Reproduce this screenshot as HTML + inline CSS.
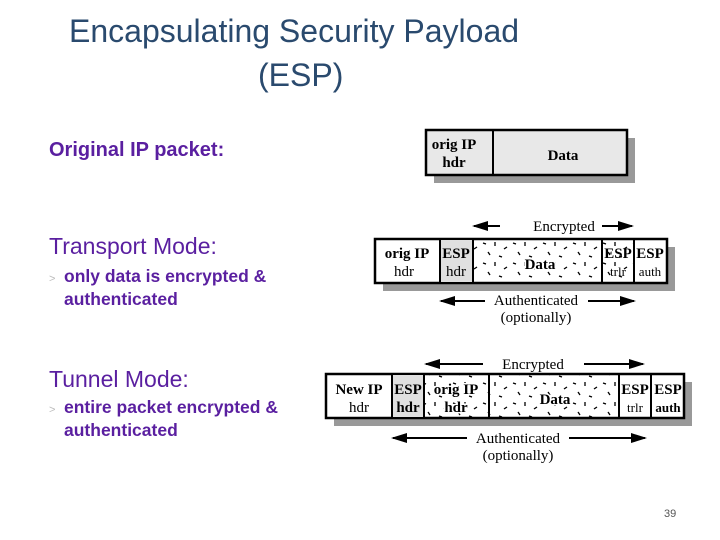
<!DOCTYPE html>
<html><head><meta charset="utf-8"><style>
body{margin:0;width:720px;height:540px;background:#fff;position:relative;overflow:hidden;font-family:"Liberation Sans",sans-serif}
.t{position:absolute;color:#2a4a6e;font-size:32px;white-space:nowrap}
.p{position:absolute;color:#5a1fa0;white-space:nowrap}
</style></head><body>
<div class="t" style="left:69px;top:13px">Encapsulating Security Payload</div>
<div class="t" style="left:258px;top:57px">(ESP)</div>
<div class="p" style="left:49px;top:139px;font-size:20px;font-weight:bold">Original IP packet:</div>
<div class="p" style="left:49px;top:233px;font-size:23px">Transport Mode:</div>
<div class="p" style="left:49px;top:265px;font-size:17.5px;font-weight:bold;line-height:23px"><span style="color:#bbb;font-weight:normal;font-size:11px;position:absolute;left:0;top:3px">&gt;</span><div style="padding-left:15px">only data is encrypted &amp;<br>authenticated</div></div>
<div class="p" style="left:49px;top:366px;font-size:23px">Tunnel Mode:</div>
<div class="p" style="left:49px;top:396px;font-size:17.5px;font-weight:bold;line-height:23px"><span style="color:#bbb;font-weight:normal;font-size:11px;position:absolute;left:0;top:3px">&gt;</span><div style="padding-left:15px">entire packet encrypted &amp;<br>authenticated</div></div>
<div style="position:absolute;left:664px;top:508px;font-size:11px;color:#555">39</div>
<svg width="720" height="540" style="position:absolute;left:0;top:0" font-family="Liberation Serif,serif" font-weight="bold" font-size="15">
<defs>
<pattern id="d" width="30" height="20" patternUnits="userSpaceOnUse">
<g stroke="#000" stroke-width="1.3">
<line x1="3" y1="3" x2="6" y2="4"/><line x1="15" y1="2" x2="15" y2="6"/><line x1="24" y1="9" x2="27" y2="7"/><line x1="8" y1="12" x2="10" y2="15"/><line x1="19" y1="16" x2="22" y2="17"/>
</g></pattern>
<marker id="a" markerWidth="8" markerHeight="8" refX="7" refY="4" orient="auto"><path d="M0,1.5 L8,4 L0,6.5z" fill="#000"/></marker>
</defs>
<!-- original -->
<rect x="434" y="138" width="201" height="45" fill="#999"/>
<rect x="426" y="130" width="201" height="45" fill="#e8e8e8" stroke="#000" stroke-width="2.5"/>
<line x1="493" y1="130" x2="493" y2="175" stroke="#000" stroke-width="2"/>
<text x="454" y="149" text-anchor="middle">orig IP</text><text x="454" y="167" text-anchor="middle">hdr</text>
<text x="563" y="160" text-anchor="middle">Data</text>
<!-- transport -->
<rect x="383" y="247" width="292" height="44" fill="#999"/>
<rect x="375" y="239" width="292" height="44" fill="#fff" stroke="#000" stroke-width="2.5"/>
<rect x="440" y="240" width="33" height="42" fill="#e0e0e0"/>
<rect x="473" y="240" width="161" height="42" fill="url(#d)"/>
<g stroke="#000" stroke-width="2"><line x1="440" y1="239" x2="440" y2="283"/><line x1="473" y1="239" x2="473" y2="283"/><line x1="602" y1="239" x2="602" y2="283"/><line x1="634" y1="239" x2="634" y2="283"/></g>
<text x="407" y="258" text-anchor="middle">orig IP</text><text x="404" y="276" text-anchor="middle" font-weight="normal">hdr</text>
<text x="456" y="258" text-anchor="middle">ESP</text><text x="456" y="276" text-anchor="middle" font-weight="normal">hdr</text>
<text x="540" y="269" text-anchor="middle" fill="#fff" stroke="#fff" stroke-width="3">Data</text><text x="540" y="269" text-anchor="middle">Data</text>
<text x="618" y="258" text-anchor="middle">ESP</text><text x="618" y="276" text-anchor="middle" font-weight="normal" font-size="13">trlr</text>
<text x="650" y="258" text-anchor="middle">ESP</text><text x="650" y="276" text-anchor="middle" font-weight="normal" font-size="13">auth</text>
<g stroke="#000" stroke-width="2" marker-end="url(#a)"><line x1="500" y1="226" x2="474" y2="226"/><line x1="602" y1="226" x2="632" y2="226"/><line x1="485" y1="301" x2="441" y2="301"/><line x1="588" y1="301" x2="634" y2="301"/></g>
<text x="564" y="231" text-anchor="middle" font-weight="normal">Encrypted</text>
<text x="536" y="305" text-anchor="middle" font-weight="normal">Authenticated</text>
<text x="536" y="322" text-anchor="middle" font-weight="normal">(optionally)</text>
<!-- tunnel -->
<rect x="334" y="382" width="358" height="44" fill="#999"/>
<rect x="326" y="374" width="358" height="44" fill="#fff" stroke="#000" stroke-width="2.5"/>
<rect x="392" y="375" width="32" height="42" fill="#e0e0e0"/>
<rect x="424" y="375" width="195" height="42" fill="url(#d)"/>
<g stroke="#000" stroke-width="2"><line x1="392" y1="374" x2="392" y2="418"/><line x1="424" y1="374" x2="424" y2="418"/><line x1="489" y1="374" x2="489" y2="418"/><line x1="619" y1="374" x2="619" y2="418"/><line x1="651" y1="374" x2="651" y2="418"/></g>
<text x="359" y="394" text-anchor="middle">New IP</text><text x="359" y="412" text-anchor="middle" font-weight="normal">hdr</text>
<text x="408" y="394" text-anchor="middle">ESP</text><text x="408" y="412" text-anchor="middle">hdr</text>
<text x="456" y="394" text-anchor="middle" fill="#fff" stroke="#fff" stroke-width="3">orig IP</text><text x="456" y="394" text-anchor="middle">orig IP</text>
<text x="456" y="412" text-anchor="middle" fill="#fff" stroke="#fff" stroke-width="3">hdr</text><text x="456" y="412" text-anchor="middle">hdr</text>
<text x="555" y="404" text-anchor="middle" fill="#fff" stroke="#fff" stroke-width="3">Data</text><text x="555" y="404" text-anchor="middle">Data</text>
<text x="635" y="394" text-anchor="middle">ESP</text><text x="635" y="412" text-anchor="middle" font-weight="normal" font-size="13">trlr</text>
<text x="668" y="394" text-anchor="middle">ESP</text><text x="668" y="412" text-anchor="middle" font-size="13">auth</text>
<g stroke="#000" stroke-width="2" marker-end="url(#a)"><line x1="483" y1="364" x2="426" y2="364"/><line x1="584" y1="364" x2="643" y2="364"/><line x1="467" y1="438" x2="393" y2="438"/><line x1="569" y1="438" x2="645" y2="438"/></g>
<text x="533" y="369" text-anchor="middle" font-weight="normal">Encrypted</text>
<text x="518" y="443" text-anchor="middle" font-weight="normal">Authenticated</text>
<text x="518" y="460" text-anchor="middle" font-weight="normal">(optionally)</text>
</svg>
</body></html>
